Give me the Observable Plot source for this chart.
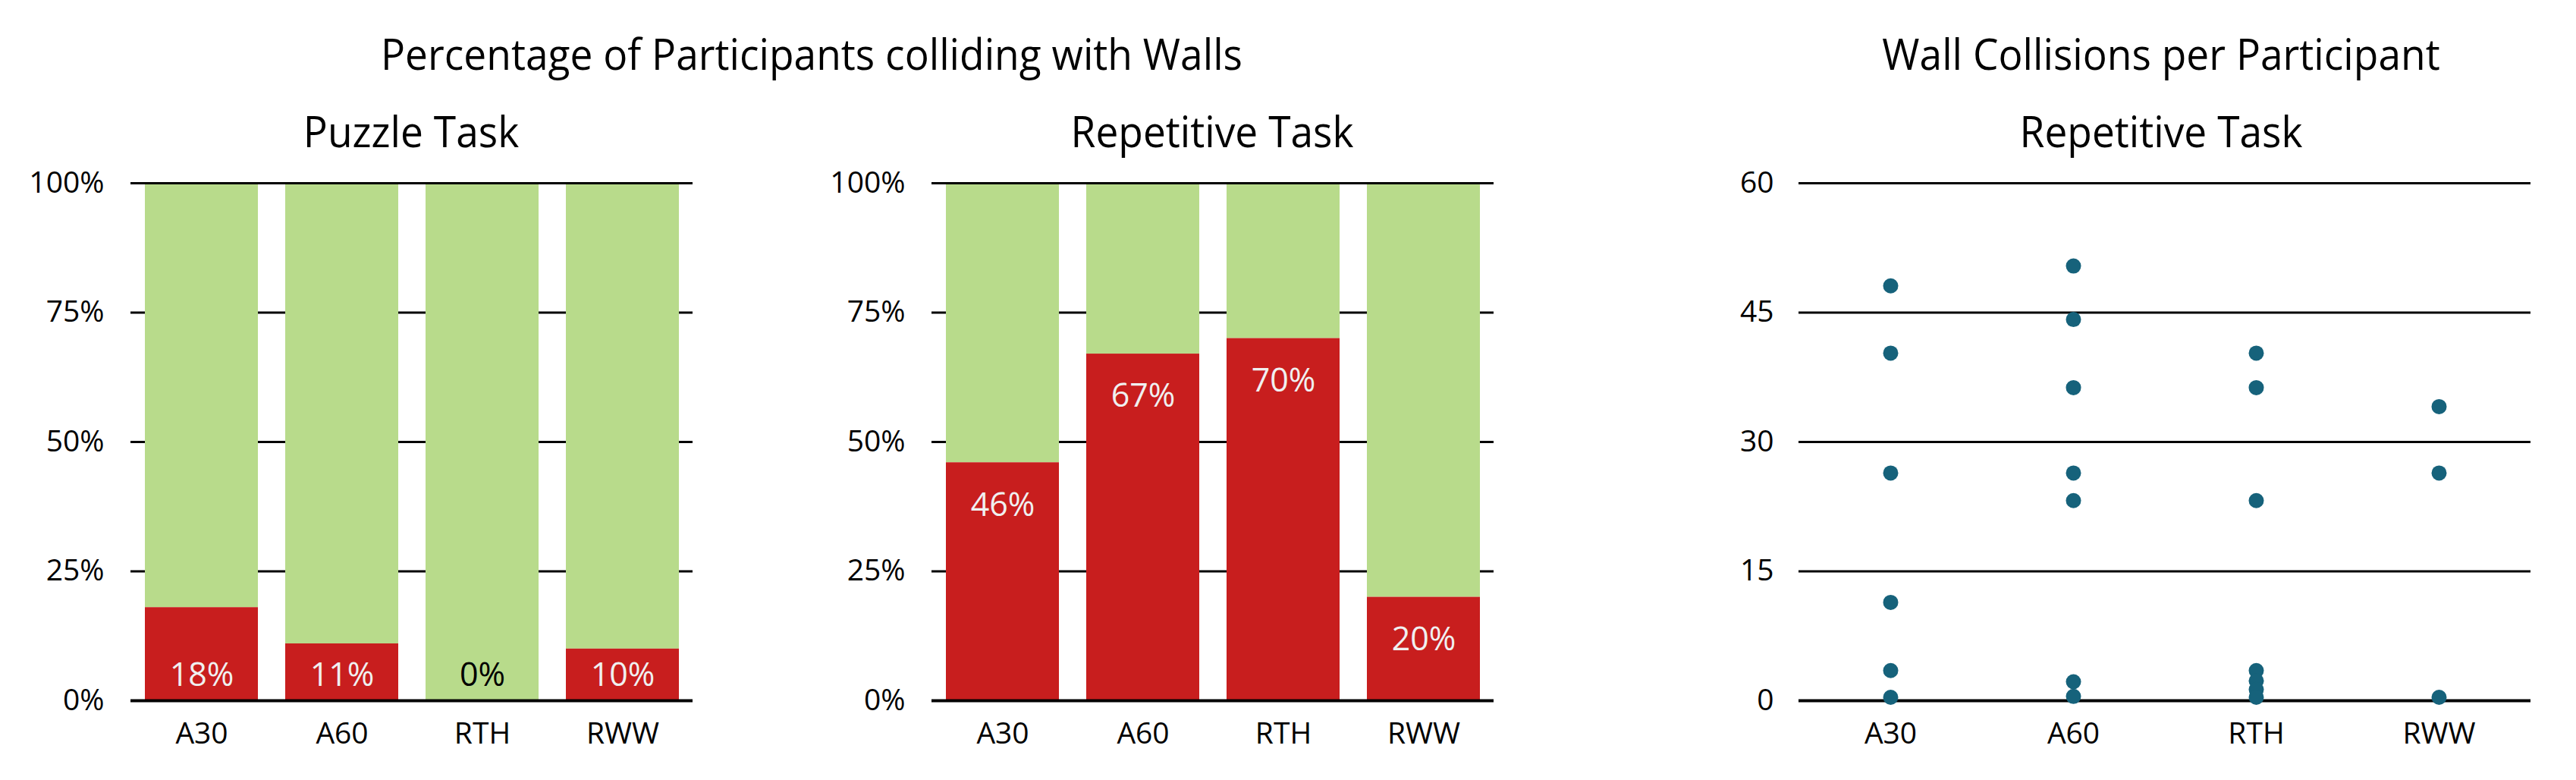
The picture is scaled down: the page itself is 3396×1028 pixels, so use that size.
<!DOCTYPE html>
<html>
<head>
<meta charset="utf-8">
<script src="https://cdn.jsdelivr.net/npm/d3@7"></script>
<script src="https://cdn.jsdelivr.net/npm/@observablehq/plot@0.6"></script>
<style>
  html, body { margin: 0; padding: 0; background: #fff; }
  #root { position: relative; width: 3396px; height: 1028px; background: #fff; overflow: hidden;
          font-family: "Open Sans", sans-serif; color: #000; }
  .ttl { position: absolute; white-space: nowrap; line-height: 1; transform: translateX(-50%) scaleX(0.935); transform-origin: 50% 50%; }
  .panel { position: absolute; top: 200px; }
</style>
</head>
<body>
<div id="root"></div>
<script>
// ---------- data ----------
const conditions = ["A30", "A60", "RTH", "RWW"];
const puzzleRates = [0.18, 0.11, 0.00, 0.10];
const repetitiveRates = [0.46, 0.67, 0.70, 0.20];
const percentTicks = [0, 0.25, 0.5, 0.75, 1];

const collisionTicks = [0, 15, 30, 45, 60];
const collisionsA30 = [48.1, 40.3, 26.4, 11.4, 3.5, 0.4];
const collisionsA60 = [50.4, 44.2, 36.3, 26.4, 23.2, 2.2, 0.5];
const collisionsRTH = [40.3, 36.3, 23.2, 3.5, 2.3, 1.3, 0.4];
const collisionsRWW = [34.1, 26.4, 0.4];

const titles = [
  {text: "Percentage of Participants colliding with Walls", x: 1070, base: 93, size: 57},
  {text: "Wall Collisions per Participant", x: 2849, base: 93, size: 57},
  {text: "Puzzle Task", x: 542, base: 195, size: 57},
  {text: "Repetitive Task", x: 1598, base: 195, size: 57},
  {text: "Repetitive Task", x: 2849, base: 195, size: 57}
];

// ---------- style ----------
const RED = "#c81e1e", GREEN = "#b8db8b", DOT = "#16627b";
const FONT = '"Open Sans", sans-serif';
const root = document.getElementById("root");

for (const t of titles) {
  const d = document.createElement("div");
  d.className = "ttl";
  d.textContent = t.text;
  d.style.fontSize = t.size + "px";
  d.style.left = t.x + "px";
  d.style.top = (t.base - 0.888 * t.size) + "px";
  root.appendChild(d);
}

function barPanel(rates, labelMode, left, width, mLeft, mRight) {
  const rows = conditions.map((c, i) => ({cond: c, v: rates[i]}));
  const plot = Plot.plot({
    width, height: 828,
    marginTop: 41, marginBottom: 105, marginLeft: mLeft, marginRight: mRight,
    style: {fontFamily: FONT, background: "transparent", color: "#000"},
    x: {domain: conditions, paddingInner: 0.195, paddingOuter: 0.09, label: null},
    y: {domain: [0, 1], label: null},
    marks: [
      Plot.ruleY([0.25, 0.5, 0.75], {stroke: "#000", strokeWidth: 3}),
      Plot.barY(rows, {x: "cond", y1: "v", y2: () => 1, fill: GREEN}),
      Plot.barY(rows, {x: "cond", y1: () => 0, y2: "v", fill: RED}),
      Plot.ruleY([1], {stroke: "#000", strokeWidth: 3}),
      Plot.ruleY([0], {stroke: "#000", strokeWidth: 4}),
      Plot.text(rows, {
        x: "cond",
        y: labelMode === "base" ? () => 0 : "v",
        dy: labelMode === "base" ? -33 : 56,
        text: d => Math.round(d.v * 100) + "%",
        fill: d => d.v > 0 ? "#f0f0f0" : "#000",
        fontSize: 43
      }),
      Plot.axisY({ticks: percentTicks, tickFormat: d => Math.round(d * 100) + "%", tickSize: 0,
                  tickPadding: 35, fontSize: 39, label: null}),
      Plot.axisX({tickSize: 0, tickPadding: 29, fontSize: 39, label: null})
    ]
  });
  plot.classList.add("panel");
  plot.style.left = left + "px";
  root.appendChild(plot);
}

barPanel(puzzleRates, "base", 0, 960, 172, 47);
barPanel(repetitiveRates, "end", 1000, 1000, 228, 31);

// scatter panel
const pts = [];
[collisionsA30, collisionsA60, collisionsRTH, collisionsRWW].forEach((arr, i) =>
  arr.forEach(v => pts.push({cond: conditions[i], v})));

const scatter = Plot.plot({
  width: 1196, height: 828,
  marginTop: 41, marginBottom: 105, marginLeft: 171, marginRight: 60,
  style: {fontFamily: FONT, background: "transparent", color: "#000"},
  x: {type: "point", domain: conditions, padding: 0.5, label: null},
  y: {domain: [0, 60], label: null},
  marks: [
    Plot.ruleY([15, 30, 45, 60], {stroke: "#000", strokeWidth: 3}),
    Plot.ruleY([0], {stroke: "#000", strokeWidth: 4}),
    Plot.dot(pts, {x: "cond", y: "v", r: 10, fill: DOT, stroke: "none"}),
    Plot.axisY({ticks: collisionTicks, tickSize: 0, tickPadding: 33, fontSize: 39, label: null}),
    Plot.axisX({tickSize: 0, tickPadding: 29, fontSize: 39, label: null})
  ]
});
scatter.classList.add("panel");
scatter.style.left = "2200px";
root.appendChild(scatter);
</script>
</body>
</html>
